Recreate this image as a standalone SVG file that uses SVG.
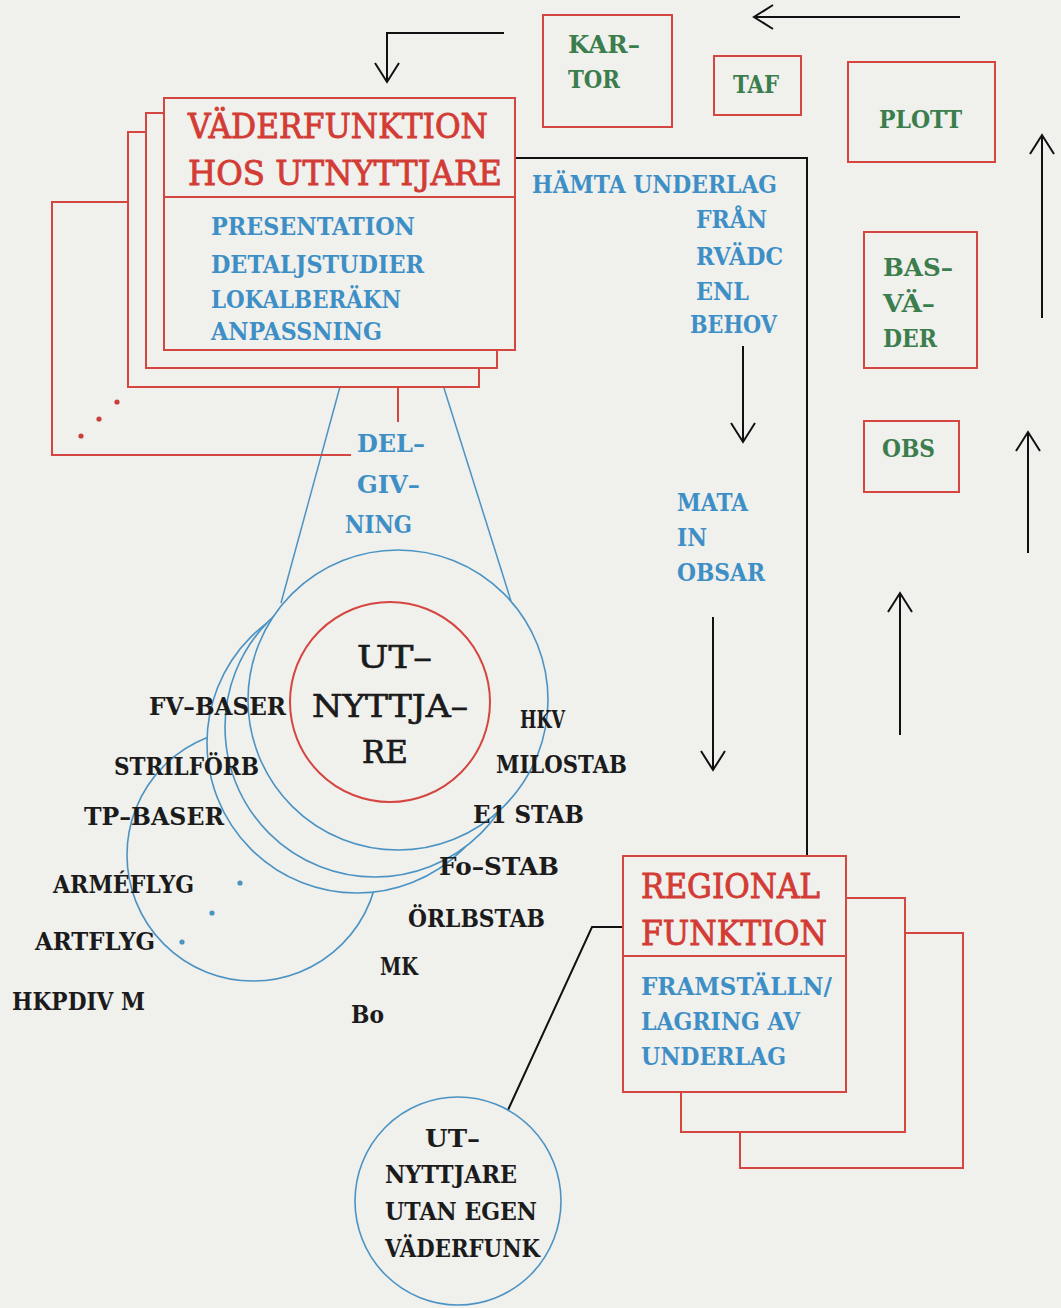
<svg xmlns="http://www.w3.org/2000/svg" width="1061" height="1308" viewBox="0 0 1061 1308">
<style>
.bg{fill:#f0f0ed}
.rbox{fill:#f0f0ed;stroke:#d4463f;stroke-width:2}
.rline{fill:none;stroke:#d4463f;stroke-width:2}
.bcirc{fill:#f0f0ed;stroke:#4b93c3;stroke-width:1.6}
.bline{fill:none;stroke:#4b93c3;stroke-width:1.5}
.conn{fill:none;stroke:#111;stroke-width:2}
.arr{marker-end:url(#open)}
text{font-family:"DejaVu Serif","Liberation Serif",serif}
.tg{fill:#3b7d4c;font-size:25px;font-weight:bold}
.tb{fill:#3e8fc6;font-size:25px;font-weight:bold}
.tr{fill:#d33c35;stroke:#d33c35;stroke-width:0.9;font-size:34px}
.tk{fill:#1b1b1b;font-size:24px;font-weight:bold}
.tc{fill:#1b1b1b;stroke:#1b1b1b;stroke-width:0.7;font-size:32px}
</style>
<defs>
<marker id="open" viewBox="0 0 22 26" refX="20" refY="13" markerWidth="22" markerHeight="26" markerUnits="userSpaceOnUse" orient="auto">
<path d="M1,1 L20,13 L1,25" fill="none" stroke="#111" stroke-width="2"/>
</marker>
</defs>
<rect class="bg" x="0" y="0" width="1061" height="1308"/>

<g id="connectors">
<polyline class="conn arr" points="504,33 387,33 387,82"/>
<line class="conn arr" x1="960" y1="17" x2="754" y2="17"/>
<polyline class="conn" points="515,158 807,158 807,857"/>
<line class="conn arr" x1="743" y1="346" x2="743" y2="442"/>
<line class="conn arr" x1="713" y1="617" x2="713" y2="770"/>
<line class="conn arr" x1="900" y1="735" x2="900" y2="593"/>
<line class="conn arr" x1="1028" y1="553" x2="1028" y2="432"/>
<line class="conn arr" x1="1042" y1="318" x2="1042" y2="135"/>
<polyline class="conn" points="623,927 592,927 508,1110"/>
<line class="bline" x1="350" y1="350" x2="281" y2="603"/>
<line class="bline" x1="432" y1="350" x2="511" y2="601"/>
<polyline class="rline" points="128,202 52,202 52,455 351,455"/>
<line class="rline" x1="398" y1="387" x2="398" y2="422"/>
</g>

<g id="node-vaderfunktion">
<rect class="rbox" x="128" y="132" width="351" height="255"/>
<rect class="rbox" x="146" y="113" width="351" height="255"/>
<rect class="rbox" x="164" y="98" width="351" height="252"/>
<line class="rline" x1="164" y1="197" x2="515" y2="197"/>
<text class="tr" x="188" y="138" textLength="300" lengthAdjust="spacingAndGlyphs">VÄDERFUNKTION</text>
<text class="tr" x="188" y="185" textLength="314" lengthAdjust="spacingAndGlyphs">HOS UTNYTTJARE</text>
<text class="tb" x="211" y="235" textLength="204" lengthAdjust="spacingAndGlyphs">PRESENTATION</text>
<text class="tb" x="211" y="273" textLength="213" lengthAdjust="spacingAndGlyphs">DETALJSTUDIER</text>
<text class="tb" x="211" y="308" textLength="190" lengthAdjust="spacingAndGlyphs">LOKALBERÄKN</text>
<text class="tb" x="211" y="340" textLength="171" lengthAdjust="spacingAndGlyphs">ANPASSNING</text>
<g fill="#c8403a">
<circle cx="117" cy="402" r="2.6"/>
<circle cx="99" cy="419" r="2.6"/>
<circle cx="81" cy="436" r="2.6"/>
</g>
</g>

<g id="node-kartor">
<rect class="rbox" x="543" y="15" width="129" height="112"/>
<text class="tg" x="568" y="53" textLength="72" lengthAdjust="spacingAndGlyphs">KAR–</text>
<text class="tg" x="568" y="88" textLength="52" lengthAdjust="spacingAndGlyphs">TOR</text>
</g>
<g id="node-taf">
<rect class="rbox" x="714" y="56" width="87" height="59"/>
<text class="tg" x="733" y="93" textLength="46" lengthAdjust="spacingAndGlyphs">TAF</text>
</g>
<g id="node-plott">
<rect class="rbox" x="848" y="62" width="147" height="100"/>
<text class="tg" x="879" y="128" textLength="83" lengthAdjust="spacingAndGlyphs">PLOTT</text>
</g>
<g id="node-basvader">
<rect class="rbox" x="864" y="232" width="113" height="136"/>
<text class="tg" x="883" y="276" textLength="70" lengthAdjust="spacingAndGlyphs">BAS–</text>
<text class="tg" x="883" y="312" textLength="52" lengthAdjust="spacingAndGlyphs">VÄ–</text>
<text class="tg" x="883" y="347" textLength="54" lengthAdjust="spacingAndGlyphs">DER</text>
</g>
<g id="node-obs">
<rect class="rbox" x="864" y="421" width="95" height="71"/>
<text class="tg" x="882" y="457" textLength="53" lengthAdjust="spacingAndGlyphs">OBS</text>
</g>

<g id="labels">
<text class="tb" x="532" y="193" textLength="245" lengthAdjust="spacingAndGlyphs">HÄMTA UNDERLAG</text>
<text class="tb" x="696" y="228" textLength="71" lengthAdjust="spacingAndGlyphs">FRÅN</text>
<text class="tb" x="696" y="265" textLength="87" lengthAdjust="spacingAndGlyphs">RVÄDC</text>
<text class="tb" x="696" y="300" textLength="53" lengthAdjust="spacingAndGlyphs">ENL</text>
<text class="tb" x="690" y="333" textLength="87" lengthAdjust="spacingAndGlyphs">BEHOV</text>
<text class="tb" x="677" y="511" textLength="71" lengthAdjust="spacingAndGlyphs">MATA</text>
<text class="tb" x="677" y="546" textLength="30" lengthAdjust="spacingAndGlyphs">IN</text>
<text class="tb" x="677" y="581" textLength="88" lengthAdjust="spacingAndGlyphs">OBSAR</text>
<text class="tb" x="357" y="452" textLength="68" lengthAdjust="spacingAndGlyphs">DEL–</text>
<text class="tb" x="357" y="493" textLength="63" lengthAdjust="spacingAndGlyphs">GIV–</text>
<text class="tb" x="345" y="533" textLength="67" lengthAdjust="spacingAndGlyphs">NING</text>
</g>

<g id="node-utnyttjare">
<circle class="bcirc" cx="253" cy="855" r="126"/>
<circle class="bcirc" cx="357" cy="743" r="150"/>
<circle class="bcirc" cx="375" cy="727" r="150"/>
<circle class="bcirc" cx="398" cy="700" r="150"/>
<circle cx="390" cy="702" r="100" fill="none" stroke="#d4463f" stroke-width="2"/>
<g fill="#4b93c3">
<circle cx="240" cy="883" r="2.6"/>
<circle cx="212" cy="913" r="2.6"/>
<circle cx="182" cy="942" r="2.6"/>
</g>
<text class="tc" x="357" y="668" textLength="75" lengthAdjust="spacingAndGlyphs">UT–</text>
<text class="tc" x="312" y="717" textLength="156" lengthAdjust="spacingAndGlyphs">NYTTJA–</text>
<text class="tc" x="362" y="763" textLength="46" lengthAdjust="spacingAndGlyphs">RE</text>
</g>

<g id="user-labels">
<text class="tk" x="149" y="715" textLength="137" lengthAdjust="spacingAndGlyphs">FV–BASER</text>
<text class="tk" x="114" y="775" textLength="145" lengthAdjust="spacingAndGlyphs">STRILFÖRB</text>
<text class="tk" x="84" y="825" textLength="140" lengthAdjust="spacingAndGlyphs">TP–BASER</text>
<text class="tk" x="53" y="893" textLength="141" lengthAdjust="spacingAndGlyphs">ARMÉFLYG</text>
<text class="tk" x="35" y="950" textLength="120" lengthAdjust="spacingAndGlyphs">ARTFLYG</text>
<text class="tk" x="12" y="1010" textLength="133" lengthAdjust="spacingAndGlyphs">HKPDIV M</text>
<text class="tk" x="520" y="728" textLength="45" lengthAdjust="spacingAndGlyphs">HKV</text>
<text class="tk" x="496" y="773" textLength="131" lengthAdjust="spacingAndGlyphs">MILOSTAB</text>
<text class="tk" x="473" y="823" textLength="111" lengthAdjust="spacingAndGlyphs">E1 STAB</text>
<text class="tk" x="439" y="875" textLength="120" lengthAdjust="spacingAndGlyphs">Fo–STAB</text>
<text class="tk" x="408" y="927" textLength="137" lengthAdjust="spacingAndGlyphs">ÖRLBSTAB</text>
<text class="tk" x="380" y="975" textLength="38" lengthAdjust="spacingAndGlyphs">MK</text>
<text class="tk" x="351" y="1023" textLength="33" lengthAdjust="spacingAndGlyphs">Bo</text>
</g>

<g id="node-regional">
<rect class="rbox" x="740" y="933" width="223" height="235"/>
<rect class="rbox" x="681" y="898" width="224" height="234"/>
<rect class="rbox" x="623" y="856" width="223" height="236"/>
<line class="rline" x1="623" y1="956" x2="846" y2="956"/>
<text class="tr" x="641" y="898" textLength="179" lengthAdjust="spacingAndGlyphs">REGIONAL</text>
<text class="tr" x="641" y="945" textLength="186" lengthAdjust="spacingAndGlyphs">FUNKTION</text>
<text class="tb" x="641" y="995" textLength="191" lengthAdjust="spacingAndGlyphs">FRAMSTÄLLN/</text>
<text class="tb" x="641" y="1030" textLength="159" lengthAdjust="spacingAndGlyphs">LAGRING AV</text>
<text class="tb" x="641" y="1065" textLength="145" lengthAdjust="spacingAndGlyphs">UNDERLAG</text>
</g>

<g id="node-utan-egen">
<ellipse class="bcirc" cx="458" cy="1201" rx="103" ry="104"/>
<text class="tk" x="425" y="1147" textLength="55" lengthAdjust="spacingAndGlyphs">UT–</text>
<text class="tk" x="385" y="1183" textLength="132" lengthAdjust="spacingAndGlyphs">NYTTJARE</text>
<text class="tk" x="385" y="1220" textLength="152" lengthAdjust="spacingAndGlyphs">UTAN EGEN</text>
<text class="tk" x="385" y="1257" textLength="155" lengthAdjust="spacingAndGlyphs">VÄDERFUNK</text>
</g>
</svg>
